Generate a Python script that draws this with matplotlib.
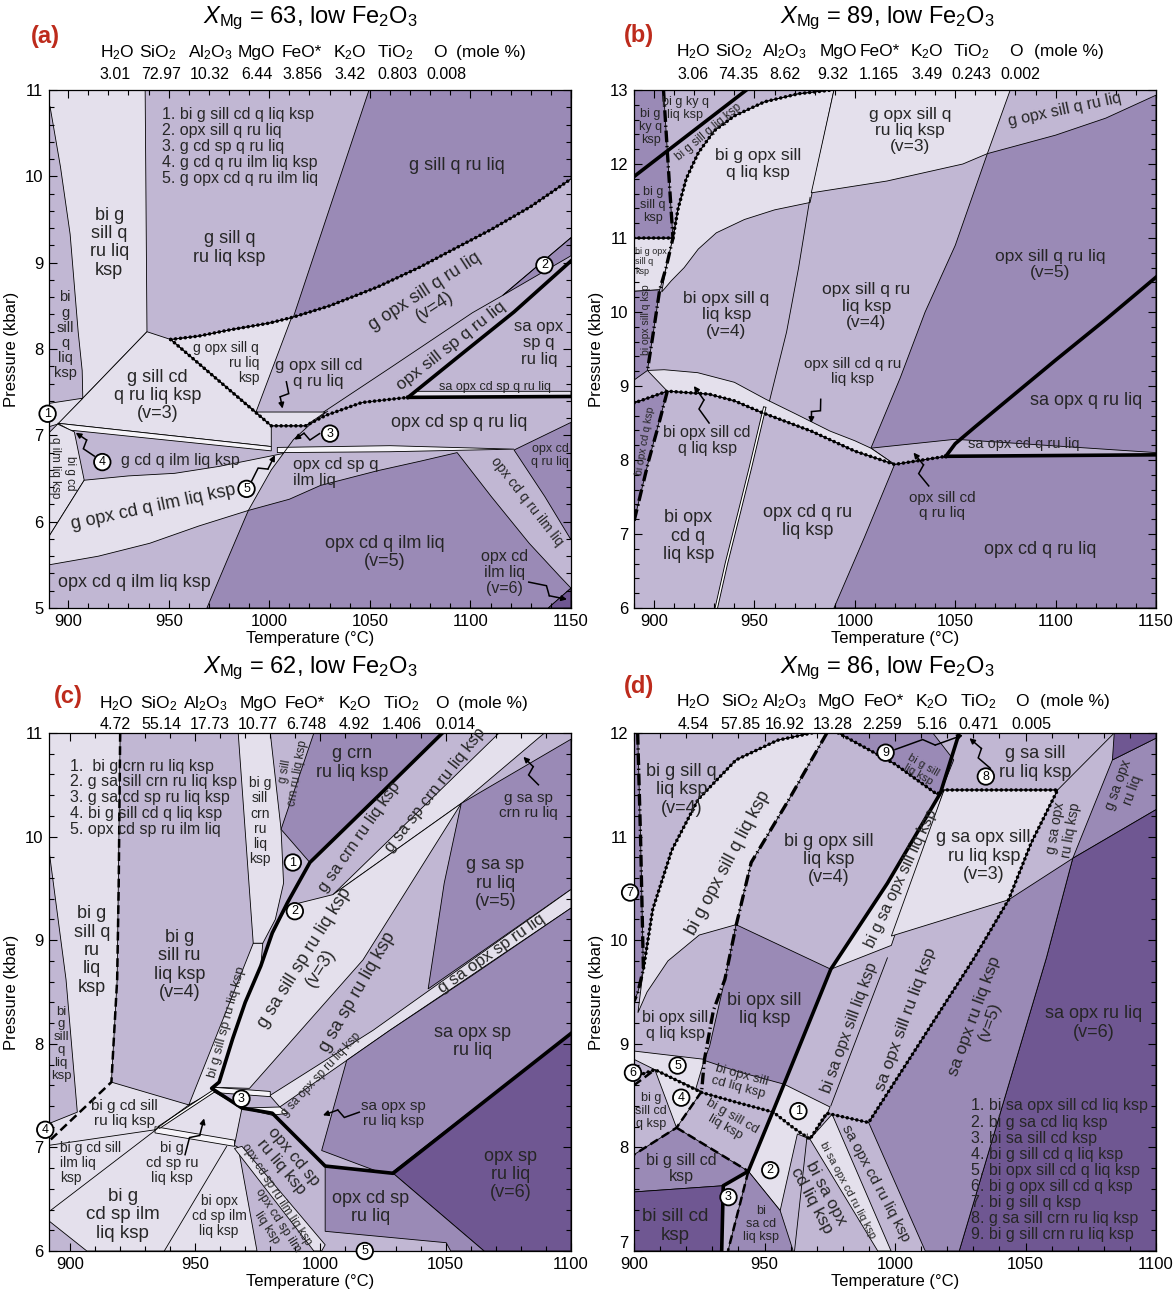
import math
import matplotlib
matplotlib.use('Agg')
import matplotlib.pyplot as plt
from matplotlib.patches import Polygon
from matplotlib.ticker import MultipleLocator

plt.rcParams['font.family'] = ['Liberation Sans', 'DejaVu Sans']
plt.rcParams['mathtext.fontset'] = 'custom'
plt.rcParams['mathtext.rm'] = 'Liberation Sans'
plt.rcParams['mathtext.it'] = 'Liberation Sans:italic'
plt.rcParams['mathtext.default'] = 'rm'
plt.rcParams['axes.linewidth'] = 0.9

# field shades, lightest to darkest
SHADES = ['#f5f3f8', '#e4e0ec', '#c1b7d3', '#9a8ab6', '#6f5792']
INK = '#262626'

OXIDES = ['H$_2$O', 'SiO$_2$', 'Al$_2$O$_3$', 'MgO', 'FeO*', 'K$_2$O', 'TiO$_2$', 'O', '(mole %)']

# ---------------- (a) XMg = 63 ----------------
A_XMG = 63
A_COMP = ['3.01', '72.97', '10.32', '6.44', '3.856', '3.42', '0.803', '0.008']
A_FIELDS = [
    (1, [(890.5, 11), (938.3, 11), (939.2, 8.2), (907.3, 7.43), (907, 7.75), (905, 8.2), (901, 9.33),
         (896.2, 10.11), (891, 10.81), (890.5, 10.81)]),
    (3, [(1049.6, 11), (1150, 11), (1150, 9.97), (1130, 9.65), (1110, 9.38), (1092, 9.16), (1075, 8.95),
         (1054, 8.72), (1030, 8.5), (1012, 8.37)]),
    (1, [(951, 8.11), (965, 8.15), (980, 8.22), (1000, 8.3), (1011, 8.36), (993.4, 7.27)]),
    (1, [(939.2, 8.2), (951, 8.11), (1001, 7.11), (1001, 6.87), (894.8, 7.14), (907.3, 7.43)]),
    (1, [(890.5, 7.37), (907.3, 7.43), (894.8, 7.13), (890.5, 7.1)]),
    (0, [(894.8, 7.14), (1001, 6.87), (1001, 6.82), (901, 7.06)]),
    (1, [(890.5, 7.03), (894.8, 7.13), (903.1, 7.04), (908, 6.48), (890.5, 5.83)]),
    (1, [(908, 6.48), (930, 6.53), (953, 6.56), (975, 6.64), (990, 6.71), (1007, 6.79), (1001, 6.6),
         (989.6, 6.13), (965, 5.95), (940.6, 5.75), (915, 5.6), (890.5, 5.5), (890.5, 5.83)]),
    (1, [(993.4, 7.27), (1028, 7.27), (1018, 7.11), (1001, 7.11)]),
    (0, [(1004, 6.86), (1060, 6.88), (1121.7, 6.84), (1060, 6.81), (1004, 6.8)]),
    (3, [(989.6, 6.13), (1010, 6.26), (1025.5, 6.42), (1053.8, 6.59), (1075, 6.7), (1093.4, 6.8),
         (1110.4, 6.29), (1129.2, 5.75), (1144.3, 5.37), (1150, 5.23), (1138.7, 5.0), (969, 5.0), (979, 5.55)]),
    (4, [(1138.7, 5.0), (1150, 5.23), (1150, 5.0)]),
    (3, [(1121.7, 6.83), (1150, 7.15), (1150, 5.79), (1137, 6.29)]),
    (1, [(1069, 7.44), (1150, 7.45), (1150, 7.51), (1073, 7.51)]),
    (3, [(1116, 8.62), (1150, 9.29), (1150, 9.08)]),
]
A_LINES = [
    ('thin', [(1007, 6.79), (1012, 6.95), (1020, 7.12), (1029, 7.28)]),
    ('thin', [(1027, 7.27), (1060, 7.78), (1101, 8.42), (1116, 8.62), (1150, 9.29)]),
    ('dotted', [(951, 8.11), (965, 8.15), (980, 8.22), (1000, 8.3), (1012, 8.37), (1030, 8.5), (1054, 8.72),
                (1075, 8.95), (1092, 9.16), (1110, 9.38), (1130, 9.65), (1150, 9.97)]),
    ('dotted', [(951, 8.11), (1001, 7.11), (1018, 7.11), (1028, 7.23), (1046, 7.38), (1069, 7.44)]),
    ('thick', [(1069, 7.44), (1095, 7.93), (1121.7, 8.43), (1150, 9.02)]),
    ('thick', [(1069, 7.44), (1150, 7.45)]),
]
A_LABELS = [
    ('bi g\nsill q\nru liq\nksp', 920.4, 9.23, 13, 0, 'center'),
    ('g sill q\nru liq ksp', 980.2, 9.17, 13, 0, 'center'),
    ('g sill q ru liq', 1093.4, 10.13, 13, 0, 'center'),
    ('bi\ng\nsill\nq\nliq\nksp', 898.5, 8.16, 10.5, 0, 'center'),
    ('g opx sill q ru liq\n(v=4)', 1080, 8.58, 13, 33, 'center'),
    ('opx sill sp q ru liq', 1090.6, 8.03, 12.5, 38, 'center'),
    ('sa opx\nsp q\nru liq', 1134, 8.07, 12, 0, 'center'),
    ('sa opx cd sp q ru liq', 1112, 7.56, 9, 0, 'center'),
    ('g opx sill q\nru liq\nksp', 995, 7.84, 10, 0, 'right'),
    ('g opx sill cd\nq ru liq', 1024.5, 7.72, 12, 0, 'center'),
    ('g sill cd\nq ru liq ksp\n(v=3)', 944.3, 7.46, 13, 0, 'center'),
    ('opx cd sp q ru liq', 1094.3, 7.15, 13, 0, 'center'),
    ('g cd q ilm liq ksp', 955.7, 6.71, 11.5, 0, 'center'),
    ('bi g cd', 901, 6.56, 8.5, -90, 'center'),
    ('q ilm liq ksp', 893.6, 6.63, 8.5, -90, 'center'),
    ('opx cd sp q\nilm liq', 1012, 6.57, 12, 0, 'left'),
    ('g opx cd q ilm liq ksp', 942.5, 6.17, 13, 12, 'center'),
    ('opx cd q ilm liq\n(v=5)', 1057.5, 5.64, 13, 0, 'center'),
    ('opx cd q ilm liq ksp', 933, 5.29, 13, 0, 'center'),
    ('opx cd\nilm liq\n(v=6)', 1117, 5.41, 11.5, 0, 'center'),
    ('opx cd q ru ilm liq', 1128.3, 6.23, 10, -52, 'center'),
    ('opx cd\nq ru liq', 1139.6, 6.77, 9, 0, 'center'),
]
A_LIST = ['1. bi g sill cd q liq ksp', '2. opx sill q ru liq', '3. g cd sp q ru liq',
          '4. g cd q ru ilm liq ksp', '5. g opx cd q ru ilm liq']
A_CIRCLES = [('1', 889.8, 7.25), ('2', 1136.8, 8.97), ('3', 1030.2, 7.02), ('4', 917, 6.69), ('5', 988.7, 6.38)]
A_ARROWS = [(913, 6.76, 903.8, 7.03), (991, 6.46, 1002.8, 6.77), (1025, 7.02, 1012.5, 6.95),
            (1008.5, 7.62, 1006.6, 7.31), (1129, 5.3, 1148, 5.1)]

# ---------------- (b) XMg = 89 ----------------
B_XMG = 89
B_COMP = ['3.06', '74.35', '8.62', '9.32', '1.165', '3.49', '0.243', '0.002']
B_FIELDS = [
    (3, [(890, 13), (904.7, 13), (907, 12.0), (909.4, 11.0), (890, 11.0)]),
    (1, [(890, 11.0), (909.4, 11.0), (906, 10.6), (902.8, 10.3), (890, 10.28)]),
    (3, [(890, 10.28), (902.8, 10.3), (899.5, 9.7), (896.7, 9.21), (890, 9.08)]),
    (3, [(890, 8.77), (906.6, 8.93), (897.2, 7.98), (890, 7.17)]),
    (1, [(909.4, 11.0), (912, 11.4), (916, 11.8), (922, 12.15), (930, 12.45), (940, 12.65), (955, 12.84),
         (972, 12.95), (988.7, 13.0), (989.6, 13.0), (977.7, 11.48), (960, 11.38), (945, 11.25), (931, 11.07),
         (922, 10.85), (915, 10.6), (908.5, 10.42), (903.8, 10.27), (906, 10.6)]),
    (1, [(989.6, 13), (1077.4, 13), (1066, 12.14), (1053.8, 12.0), (1016, 11.77), (978.3, 11.61)]),
    (3, [(1066, 12.14), (1100, 12.39), (1125, 12.62), (1150, 12.93), (1150, 6.0), (989.6, 6.0),
         (1004.7, 6.95), (1019.8, 7.94), (1008, 8.16), (1022.6, 9.11), (1035, 10.0), (1050, 10.9)]),
    (2, [(1008, 8.16), (1050, 8.28), (1150, 8.10), (1150, 8.07), (1045.3, 8.05), (1019.8, 7.94)]),
    (1, [(896.7, 9.21), (905, 9.22), (921.7, 9.18), (940, 9.05), (955.7, 8.82), (970, 8.63), (987.7, 8.39),
         (1000, 8.26), (1008, 8.16), (1019.8, 7.94), (1000, 8.12), (978.3, 8.39), (953.8, 8.64),
         (940, 8.8), (927.4, 8.89), (906.6, 8.93)]),
]
B_LINES = [
    ('thin', [(977.7, 11.55), (972, 10.6), (966, 9.73), (957.5, 8.8)]),
    ('double', [(955, 8.7), (948, 7.9), (942.5, 7.3), (936, 6.6), (931, 6.0)]),
    ('thick', [(890, 11.83), (946, 13)]),
    ('thick', [(1045.3, 8.05), (1050, 8.22), (1060, 8.45), (1080, 8.9), (1100, 9.35), (1125, 9.9), (1150, 10.47)]),
    ('thick', [(1045.3, 8.05), (1150, 8.07)]),
    ('dashdot', [(904.7, 13), (907, 12.0), (909.4, 11.0), (906, 10.6), (902.8, 10.3), (899.5, 9.7), (896.7, 9.21)]),
    ('dashdot', [(906.6, 8.93), (902, 8.45), (897.2, 7.98), (890, 7.17)]),
    ('dotted', [(890, 11.0), (909.4, 11.0)]),
    ('dotted', [(909.4, 11.0), (912, 11.4), (916, 11.8), (922, 12.15), (930, 12.45), (940, 12.65),
                (955, 12.84), (972, 12.95), (988.7, 13.0)]),
    ('dotted', [(890, 8.77), (906.6, 8.93), (927.4, 8.89), (940, 8.8), (953.8, 8.64), (978.3, 8.39),
                (1000, 8.12), (1019.8, 7.94), (1045.3, 8.05)]),
]
B_LABELS = [
    ('bi g\nky q\nksp', 898.3, 12.5, 9, 0, 'center'),
    ('bi g ky q\nliq ksp', 915.5, 12.75, 9, 0, 'center'),
    ('bi g sill q liq ksp', 927, 12.43, 8.5, 40, 'center'),
    ('bi g\nsill q\nksp', 899.5, 11.45, 9, 0, 'center'),
    ('bi g opx\nsill q\nksp', 890.5, 10.68, 6.5, 0, 'left'),
    ('bi g opx sill\nq liq ksp', 951.9, 12.0, 12.5, 0, 'center'),
    ('g opx sill q\nru liq ksp\n(v=3)', 1027.4, 12.45, 12.5, 0, 'center'),
    ('g opx sill q ru liq', 1104.7, 12.73, 11.5, 12, 'center'),
    ('opx sill q ru liq\n(v=5)', 1097.2, 10.64, 12.5, 0, 'center'),
    ('bi opx sill q\nliq ksp\n(v=4)', 936, 9.96, 12.5, 0, 'center'),
    ('opx sill q ru\nliq ksp\n(v=4)', 1005.7, 10.08, 12.5, 0, 'center'),
    ('opx sill cd q ru\nliq ksp', 999, 9.2, 11, 0, 'center'),
    ('bi opx sill q ksp', 895.9, 9.89, 7.5, 90, 'center'),
    ('bi opx cd q ksp', 895.5, 8.26, 7.5, 80, 'center'),
    ('bi opx sill cd\nq liq ksp', 926.4, 8.26, 11.5, 0, 'center'),
    ('bi opx\ncd q\nliq ksp', 917, 6.97, 13, 0, 'center'),
    ('opx cd q ru\nliq ksp', 976.4, 7.17, 13, 0, 'center'),
    ('sa opx q ru liq', 1115, 8.8, 13, 0, 'center'),
    ('sa opx cd q ru liq', 1084, 8.21, 10.5, 0, 'center'),
    ('opx sill cd\nq ru liq', 1043.4, 7.38, 11, 0, 'center'),
    ('opx cd q ru liq', 1092.5, 6.79, 13, 0, 'center'),
]
B_LIST = []
B_CIRCLES = []
B_ARROWS = [(927.4, 8.5, 919.8, 9.0), (983, 8.82, 978.3, 8.5), (1036.8, 7.65, 1029.2, 8.1)]

# ---------------- (c) XMg = 62 ----------------
C_XMG = 62
C_COMP = ['4.72', '55.14', '17.73', '10.77', '6.748', '4.92', '1.406', '0.014']
C_FIELDS = [
    (1, [(891.7, 11), (920.1, 11), (918.9, 8.62), (916.6, 7.63), (947.5, 7.41), (957.2, 7.54), (968.7, 7.38),
         (965.7, 7.02), (967.2, 7.0), (974.7, 6.0), (906.8, 6.0), (891.7, 6.29), (891.7, 7.23), (903, 7.34),
         (898.5, 8.62), (891.7, 9.87)]),
    (0, [(934, 7.2), (965.7, 7.07), (965.7, 7.01), (934, 7.14)]),
    (1, [(967.2, 11), (980, 11), (984.3, 10.07), (985.3, 9.55), (982, 9.2), (977, 8.97), (973.2, 8.97)]),
    (1, [(973.2, 8.97), (977, 8.97), (976.2, 8.75), (970, 8.4), (965, 8.05), (959.6, 7.63), (957.2, 7.54),
         (947.5, 7.41)]),
    (3, [(997.4, 11), (1048.7, 11), (1023, 10.39), (995.8, 9.75), (984.3, 10.07)]),
    (1, [(1071.3, 11), (1089.4, 11), (1056.2, 10.32), (1005, 9.44)]),
    (1, [(986.8, 9.33), (1005, 9.44), (1056.2, 10.32), (1017, 8.81), (971.7, 7.57), (957.5, 7.58),
         (959.6, 7.63), (965, 8.05), (970, 8.4), (976.2, 8.75), (980.8, 9.07)]),
    (3, [(1056.2, 10.32), (1100, 10.94), (1100, 9.49), (1043, 8.53), (1049.4, 9.55)]),
    (1, [(979.8, 7.5), (1021, 8.13), (1100, 9.49), (1100, 9.31), (1027.7, 8.13), (1010.5, 7.84), (983.8, 7.39)]),
    (3, [(1010.5, 7.84), (1027.7, 8.13), (1060, 8.65), (1100, 9.31), (1100, 8.10), (1027, 6.73), (1000.5, 6.97)]),
    (4, [(1029, 6.75), (1100, 8.10), (1100, 6.0), (1065.3, 6.0)]),
    (3, [(1001.9, 6.82), (1029, 6.75), (1065.3, 6.0), (1052, 6.0), (1050.2, 6.08), (1001.9, 6.19)]),
    (1, [(965.7, 6.99), (968.7, 7.01), (1001.9, 6.06), (1000.5, 6.0), (997.4, 6.0)]),
    (0, [(957.5, 7.58), (980, 7.54), (980, 7.49), (957.5, 7.53)]),
    (0, [(968.7, 7.38), (983.8, 7.39), (987, 7.33), (980.8, 7.31)]),
]
C_LINES = [
    ('thin', [(891.7, 6.38), (936, 7.2)]),
    ('double', [(936, 7.2), (957.2, 7.54)]),
    ('thin', [(891.7, 7.02), (934, 7.17)]),
    ('thin', [(937.7, 6.0), (962.6, 7.01)]),
    ('thin', [(947.5, 7.41), (934, 7.17)]),
    ('thick', [(1048.7, 11), (1023, 10.39), (995.8, 9.75), (986.8, 9.36), (980.8, 9.07), (976.2, 8.75),
               (970, 8.4), (965, 8.05), (959.6, 7.63), (956.6, 7.57), (968.7, 7.38), (980.8, 7.33),
               (1001.9, 6.82), (1029, 6.75), (1100, 8.10)]),
    ('dashed', [(920.1, 11), (919.5, 9.5), (918.9, 8.62), (916.6, 7.63), (891.7, 7.06)]),
]
C_LABELS = [
    ('bi g\nsill\ncrn\nru\nliq\nksp', 975.9, 10.15, 10, 0, 'center'),
    ('g sill\ncrn ru liq ksp', 988.5, 10.62, 8.5, 80, 'center'),
    ('g crn\nru liq ksp', 1012.5, 10.71, 13, 0, 'center'),
    ('g sa crn ru liq ksp', 1015.5, 10.0, 12, 55, 'center'),
    ('g sa sp crn ru liq ksp', 1045.7, 10.45, 12, 52, 'center'),
    ('g sa sp\ncrn ru liq', 1083, 10.3, 11, 0, 'center'),
    ('g sa sp\nru liq\n(v=5)', 1069.8, 9.55, 13, 0, 'center'),
    ('bi g\nsill q\nru\nliq\nksp', 908.8, 8.9, 13, 0, 'center'),
    ('bi g\nsill ru\nliq ksp\n(v=4)', 943.8, 8.76, 13, 0, 'center'),
    ('bi\ng\nsill\nq\nliq\nksp', 896.5, 8.0, 9.5, 0, 'center'),
    ('bi g sill sp ru liq ksp', 962.6, 8.21, 9.5, 75, 'center'),
    ('g sa sill sp ru liq ksp\n(v=3)', 997, 8.78, 13, 58, 'center'),
    ('g sa sp ru liq ksp', 1015, 8.5, 13, 60, 'center'),
    ('g sa opx sp ru liq', 1068.3, 8.87, 12, 35, 'center'),
    ('g sa opx sp ru liq ksp', 1000.4, 7.7, 8.5, 47, 'center'),
    ('sa opx sp\nru liq', 1060.8, 8.02, 13, 0, 'center'),
    ('bi g cd sill\nru liq ksp', 921.9, 7.33, 11, 0, 'center'),
    ('bi g cd sill\nilm liq\nksp', 896.2, 6.85, 10, 0, 'left'),
    ('bi g\ncd sp ru\nliq ksp', 940.8, 6.85, 10.5, 0, 'center'),
    ('bi g\ncd sp ilm\nliq ksp', 921.1, 6.35, 13.5, 0, 'center'),
    ('bi opx\ncd sp ilm\nliq ksp', 959.6, 6.34, 10, 0, 'center'),
    ('opx cd sp ru ilm liq ksp', 982.3, 6.54, 8.5, -57, 'center'),
    ('opx cd sp ilm\nliq ksp', 980.8, 6.26, 9, -57, 'center'),
    ('opx cd sp\nru liq ksp', 986.8, 6.86, 12, -50, 'center'),
    ('opx cd sp\nru liq', 1020, 6.42, 13, 0, 'center'),
    ('opx sp\nru liq\n(v=6)', 1075.8, 6.74, 13, 0, 'center'),
    ('sa opx sp\nru liq ksp', 1029, 7.33, 11, 0, 'center'),
]
C_LIST = ['1.  bi g crn ru liq ksp', '2. g sa sill crn ru liq ksp', '3. g sa cd sp ru liq ksp',
          '4. bi g sill cd q liq ksp', '5. opx cd sp ru ilm liq']
C_CIRCLES = [('1', 989, 9.75), ('2', 989.8, 9.28), ('3', 968.5, 7.47), ('4', 890.2, 7.17), ('5', 1017.7, 6.0)]
C_ARROWS = [(1087, 10.5, 1081, 10.77), (946, 6.93, 953.6, 7.28), (1015.5, 7.34, 1001, 7.31)]

# ---------------- (d) XMg = 86 ----------------
D_XMG = 86
D_COMP = ['4.54', '57.85', '16.92', '13.28', '2.259', '5.16', '0.471', '0.005']
D_FIELDS = [
    (3, [(900, 12), (901.4, 12), (902.5, 11), (903.6, 9.72), (901.5, 9.5), (900, 9.41)]),
    (1, [(968.1, 12), (973.9, 12), (959.4, 11.36), (944.9, 10.75), (939.1, 10.15), (925, 10.05), (913, 9.8),
         (905, 9.5), (901.5, 9.3), (903.6, 9.72), (907.2, 10.3), (914.5, 10.87), (924.6, 11.36),
         (939.1, 11.74), (955, 11.93)]),
    (3, [(978.3, 12), (1014.5, 12), (1022.5, 11.74), (1017.4, 11.42), (1016, 11.41), (1000, 11.7)]),
    (1, [(1017.4, 11.42), (1018.8, 11.45), (998.6, 9.95), (975.4, 9.72), (997.1, 10.55)]),
    (1, [(1018.8, 11.45), (1062.3, 11.45), (1052.2, 10.94), (1043.5, 10.39), (998.6, 10.04)]),
    (3, [(1083.3, 11.74), (1100, 11.95), (1100, 11.26), (1068.1, 10.79)]),
    (4, [(1084, 12), (1100, 12), (1100, 11.95), (1083.3, 11.74)]),
    (4, [(1068.1, 10.79), (1100, 11.26), (1100, 7.0), (1024.6, 7.0), (1058, 9.83)]),
    (3, [(1043.5, 10.39), (1068.1, 10.79), (1058, 9.83), (1024.6, 7.0), (1011.6, 7.0), (989.9, 8.24),
         (1030.4, 9.83)]),
    (3, [(939.1, 10.15), (975.4, 9.72), (964.6, 9.05), (957.5, 8.61), (940, 8.73), (926.9, 8.84), (929, 8.98),
         (934.8, 9.62)]),
    (1, [(953.4, 8.34), (957.5, 8.61), (975.1, 8.39), (973.8, 8.31), (967.4, 8.08), (962.6, 8.13), (956, 7.39),
         (943.8, 7.77)]),
    (1, [(967.4, 8.08), (975.9, 8.32), (998.5, 7.0), (993.4, 7.0)]),
    (1, [(900, 8.93), (927, 8.85), (923.5, 8.55), (908, 8.75), (900, 8.85)]),
    (1, [(908, 8.75), (925.9, 8.54), (916.3, 8.19)]),
    (3, [(900, 7.93), (916.3, 8.19), (943.8, 7.77), (934.2, 7.63), (900, 7.57)]),
    (4, [(900, 7.57), (934.2, 7.63), (933.6, 7.0), (900, 7.0)]),
    (3, [(943.8, 7.77), (956, 7.39), (961, 7.0), (936, 7.0)]),
]
D_LINES = [
    ('thin', [(1062.3, 11.45), (1084, 12)]),
    ('thin', [(997.1, 9.83), (975.4, 8.4)]),
    ('thin', [(966.4, 8.13), (961.5, 7.0)]),
    ('thick', [(1024.6, 12), (1017.4, 11.42), (997.1, 10.55), (975.4, 9.72), (953.6, 8.37), (943.8, 7.77),
               (934.2, 7.63), (933.6, 7.0)]),
    ('dashdot', [(973.9, 12), (959.4, 11.36), (944.9, 10.75), (939.1, 10.14), (934.8, 9.62), (930.4, 9.32),
                 (927, 8.85), (925.9, 8.54)]),
    ('dashdot', [(901.4, 12), (902.5, 11), (903.6, 9.72), (901.5, 9.5), (900, 9.41)]),
    ('dashed', [(925.9, 8.54), (916.3, 8.19), (900, 7.93)]),
    ('dashed', [(916.3, 8.19), (943.8, 7.77)]),
    ('dashed', [(943.8, 7.77), (936, 7.0)]),
    ('dashed', [(900, 8.6), (908, 8.75)]),
    ('dotted', [(968.1, 12), (955, 11.93), (939.1, 11.74), (924.6, 11.36), (914.5, 10.87), (907.2, 10.3),
                (903.6, 9.72)]),
    ('dotted', [(978.3, 12), (1000, 11.7), (1016, 11.41), (1018.8, 11.45), (1062.3, 11.45), (1052.2, 10.94),
                (1043.5, 10.39), (1030.4, 9.83), (989.9, 8.24), (973.8, 8.33), (967.4, 8.08), (961, 8.19),
                (953.4, 8.34), (940, 8.43), (925.9, 8.53), (908, 8.75), (900, 8.68)]),
]
D_LABELS = [
    ('bi g sill q\nliq ksp\n(v=4)', 918.1, 11.45, 13, 0, 'center'),
    ('bi g opx sill q liq ksp', 936.2, 10.75, 13, 62, 'center'),
    ('bi g opx sill\nliq ksp\n(v=4)', 974.6, 10.78, 13, 0, 'center'),
    ('bi g sill\nliq ksp', 1010, 11.64, 8, -30, 'center'),
    ('g sa sill\nru liq ksp', 1053.6, 11.71, 13, 0, 'center'),
    ('g sa opx sill\nru liq ksp\n(v=3)', 1034, 10.81, 13, 0, 'center'),
    ('bi g sa opx sill liq ksp', 1002.2, 10.6, 11.5, 65, 'center'),
    ('g sa opx\nru liq ksp', 1064.5, 11.07, 10, 80, 'center'),
    ('g sa opx\nru liq', 1088.4, 11.47, 10, 70, 'center'),
    ('bi opx sill\nliq ksp', 950, 9.33, 13, 0, 'center'),
    ('bi opx sill\nq liq ksp', 915.9, 9.18, 11.5, 0, 'center'),
    ('bi sa opx sill liq ksp', 982.6, 9.15, 11.5, 70, 'center'),
    ('sa opx sill ru liq ksp', 1004.3, 9.24, 12.5, 70, 'center'),
    ('sa opx ru liq ksp\n(v=5)', 1033.3, 9.24, 12.5, 70, 'center'),
    ('sa opx ru liq\n(v=6)', 1076, 9.2, 13, 0, 'center'),
    ('bi opx sill\ncd liq ksp', 940.6, 8.64, 9.5, -15, 'center'),
    ('bi g sill cd\nliq ksp', 936.2, 8.25, 9.5, -30, 'center'),
    ('bi g\nsill cd\nq ksp', 906.5, 8.35, 9, 0, 'center'),
    ('bi g sill cd\nksp', 918.1, 7.8, 11.5, 0, 'center'),
    ('bi sill cd\nksp', 915.9, 7.24, 13.5, 0, 'center'),
    ('bi\nsa cd\nliq ksp', 948.6, 7.26, 9, 0, 'center'),
    ('bi sa opx\ncd liq ksp', 971, 7.52, 12.5, -62, 'center'),
    ('bi sa opx cd ru liq ksp', 981.9, 7.59, 8, -62, 'center'),
    ('sa opx cd ru liq ksp', 992.8, 7.65, 11, -62, 'center'),
]
D_LIST = ['1. bi sa opx sill cd liq ksp', '2. bi g sa cd liq ksp', '3. bi sa sill cd ksp',
          '4. bi g sill cd q liq ksp', '5. bi opx sill cd q liq ksp', '6. bi g opx sill cd q ksp',
          '7. bi g sill q ksp', '8. g sa sill crn ru liq ksp', '9. bi g sill crn ru liq ksp']
D_CIRCLES = [('1', 963, 8.35), ('2', 952.2, 7.78), ('3', 936.2, 7.52), ('4', 918.1, 8.48), ('5', 916.7, 8.79),
             ('6', 899.6, 8.72), ('7', 898.5, 10.46), ('8', 1034.8, 11.58), ('9', 996.4, 11.81)]
D_ARROWS = [(1000, 11.84, 1026, 11.98), (1036.5, 11.66, 1028.5, 11.95)]


def draw_lines(ax, lines):
    for style, pts in lines:
        xs = [p[0] for p in pts]
        ys = [p[1] for p in pts]
        if style == 'thin':
            ax.plot(xs, ys, color='k', lw=0.6, zorder=2)
        elif style == 'thick':
            ax.plot(xs, ys, color='k', lw=2.6, zorder=3, solid_joinstyle='round')
        elif style == 'dotted':
            ax.plot(xs, ys, color='k', lw=0.6, zorder=3)
            ax.plot(xs, ys, color='k', lw=2.6, ls=(0, (0.01, 1.35)), dash_capstyle='round', zorder=3)
        elif style == 'dashed':
            ax.plot(xs, ys, color='k', lw=1.8, ls=(0, (3.5, 1.8)), zorder=3)
        elif style == 'dashdot':
            ax.plot(xs, ys, color='k', lw=2.4, ls=(0, (3.5, 1.1, 0.4, 1.1)), zorder=3)
        elif style == 'double':
            ax.plot(xs, ys, color='k', lw=2.4, zorder=2)
            ax.plot(xs, ys, color='white', lw=1.1, zorder=2)


def zigzag_arrow(ax, t0, p0, t1, p1):
    # leader with a small kink in the middle, ending in an arrow head
    to_px = ax.transData
    x0, y0 = to_px.transform((t0, p0))
    x1, y1 = to_px.transform((t1, p1))
    dx, dy = x1 - x0, y1 - y0
    n = math.hypot(dx, dy)
    nx, ny = -dy / n, dx / n
    amp = min(4.0, 0.18 * n)
    ka = (x0 + 0.42 * dx + nx * amp, y0 + 0.42 * dy + ny * amp)
    kb = (x0 + 0.58 * dx - nx * amp, y0 + 0.58 * dy - ny * amp)
    inv = to_px.inverted()
    ta, pa = inv.transform(ka)
    tb, pb = inv.transform(kb)
    ax.plot([t0, ta, tb], [p0, pa, pb], color='k', lw=1.1, zorder=6, solid_joinstyle='miter')
    ax.annotate('', xy=(t1, p1), xytext=(tb, pb), zorder=6,
                arrowprops=dict(arrowstyle='-|>', color='k', lw=1.1, mutation_scale=8,
                                shrinkA=0, shrinkB=0))


def draw_panel(ax, fields, lines, labels, circles, listing, list_pos):
    ax.set_facecolor(SHADES[2])
    for shade, pts in fields:
        ax.add_patch(Polygon(pts, closed=True, fc=SHADES[shade], ec='k', lw=0.6, zorder=1))
    draw_lines(ax, lines)
    for text, t, p, size, rot, ha in labels:
        ax.text(t, p, text, fontsize=size, rotation=rot, ha=ha, va='center', multialignment=ha,
                rotation_mode='anchor', color=INK, zorder=5, linespacing=1.1)
    if listing:
        t0, p0, step, size = list_pos
        for i, line in enumerate(listing):
            ax.text(t0, p0 - i * step, line, fontsize=size, ha='left', va='center', color=INK, zorder=5)
    for num, t, p in circles:
        ax.text(t, p, num, fontsize=9, ha='center', va='center', color='k', zorder=7, clip_on=False,
                bbox=dict(boxstyle='circle,pad=0.18', fc='white', ec='k', lw=1.3))


def frame(ax, xlim, ylim, xticks):
    ax.set_xlim(*xlim)
    ax.set_ylim(*ylim)
    ax.set_xticks(xticks)
    ax.set_yticks(range(int(ylim[0]), int(ylim[1]) + 1))
    ax.xaxis.set_minor_locator(MultipleLocator(10))
    ax.yaxis.set_minor_locator(MultipleLocator(0.2))
    ax.tick_params(which='both', direction='in', top=True, right=True, labelsize=12, width=0.8, pad=4)
    ax.tick_params(which='major', length=6)
    ax.tick_params(which='minor', length=3.5)
    ax.set_xlabel('Temperature (°C)', fontsize=12, labelpad=2)
    ax.set_ylabel('Pressure (kbar)', fontsize=12, labelpad=4)


def header(ax, tag, xmg, comp, ox_x, val_x, ys, tag_x, title_x):
    y_title, y_tag, y_ox, y_val = ys
    ax.text(title_x, y_title, r'$\mathit{X}_{\mathrm{Mg}}$ = %d, low Fe$_2$O$_3$' % xmg,
            transform=ax.transAxes, fontsize=17, ha='center', va='center')
    ax.text(tag_x, y_tag, tag, transform=ax.transAxes, fontsize=17, fontweight='bold',
            color='#bd2b1c', ha='left', va='center')
    for name, x in zip(OXIDES, ox_x):
        ax.text(x, y_ox, name, transform=ax.transAxes, fontsize=12.5, ha='center', va='center')
    for val, x in zip(comp, val_x):
        ax.text(x, y_val, val, transform=ax.transAxes, fontsize=11.5, ha='center', va='center')


fig = plt.figure(figsize=(11.76, 12.93), dpi=100)
W, H = 522 / 1176, 518 / 1293
ax_a = fig.add_axes([49 / 1176, 1 - 608 / 1293, W, H])
ax_b = fig.add_axes([634 / 1176, 1 - 608 / 1293, W, H])
ax_c = fig.add_axes([49 / 1176, 1 - 1251 / 1293, W, H])
ax_d = fig.add_axes([634 / 1176, 1 - 1251 / 1293, W, H])

draw_panel(ax_a, A_FIELDS, A_LINES, A_LABELS, A_CIRCLES, A_LIST, (946.6, 10.72, 0.185, 11.5))
frame(ax_a, (890.5, 1150), (5, 11), range(900, 1151, 50))
header(ax_a, '(a)', A_XMG, A_COMP,
       [0.130, 0.209, 0.310, 0.398, 0.485, 0.577, 0.663, 0.749, 0.847],
       [0.126, 0.215, 0.308, 0.398, 0.485, 0.577, 0.667, 0.761],
       (1.138, 1.103, 1.072, 1.029), -0.035, 0.5)

draw_panel(ax_b, B_FIELDS, B_LINES, B_LABELS, B_CIRCLES, B_LIST, None)
frame(ax_b, (890, 1150), (6, 13), range(900, 1151, 50))
header(ax_b, '(b)', B_XMG, B_COMP,
       [0.113, 0.190, 0.289, 0.391, 0.471, 0.561, 0.646, 0.732, 0.833],
       [0.113, 0.199, 0.289, 0.381, 0.469, 0.561, 0.647, 0.740],
       (1.138, 1.106, 1.074, 1.029), -0.02, 0.485)

draw_panel(ax_c, C_FIELDS, C_LINES, C_LABELS, C_CIRCLES, C_LIST, (900, 10.68, 0.152, 11.5))
frame(ax_c, (891.7, 1100), (6, 11), range(900, 1101, 50))
header(ax_c, '(c)', C_XMG, C_COMP,
       [0.129, 0.210, 0.299, 0.402, 0.491, 0.585, 0.674, 0.753, 0.851],
       [0.127, 0.216, 0.307, 0.399, 0.493, 0.585, 0.676, 0.779],
       (1.125, 1.070, 1.057, 1.016), 0.01, 0.5)

draw_panel(ax_d, D_FIELDS, D_LINES, D_LABELS, D_CIRCLES, D_LIST, (1029, 8.40, 0.155, 11.5))
frame(ax_d, (900, 1100), (7, 12), range(900, 1101, 50))
header(ax_d, '(d)', D_XMG, D_COMP,
       [0.113, 0.203, 0.289, 0.387, 0.479, 0.571, 0.659, 0.743, 0.845],
       [0.113, 0.203, 0.289, 0.381, 0.475, 0.571, 0.659, 0.761],
       (1.125, 1.089, 1.060, 1.016), -0.02, 0.485)

# arrows need the final limits to shape their kinks
for ax, arrows in ((ax_a, A_ARROWS), (ax_b, B_ARROWS), (ax_c, C_ARROWS), (ax_d, D_ARROWS)):
    for t0, p0, t1, p1 in arrows:
        zigzag_arrow(ax, t0, p0, t1, p1)

# lift the lowest pressure label in (d) clear of the first temperature label
fig.canvas.draw()
ax_d.get_yticklabels()[0].set_va('bottom')

fig.savefig('out.png', dpi=100)
